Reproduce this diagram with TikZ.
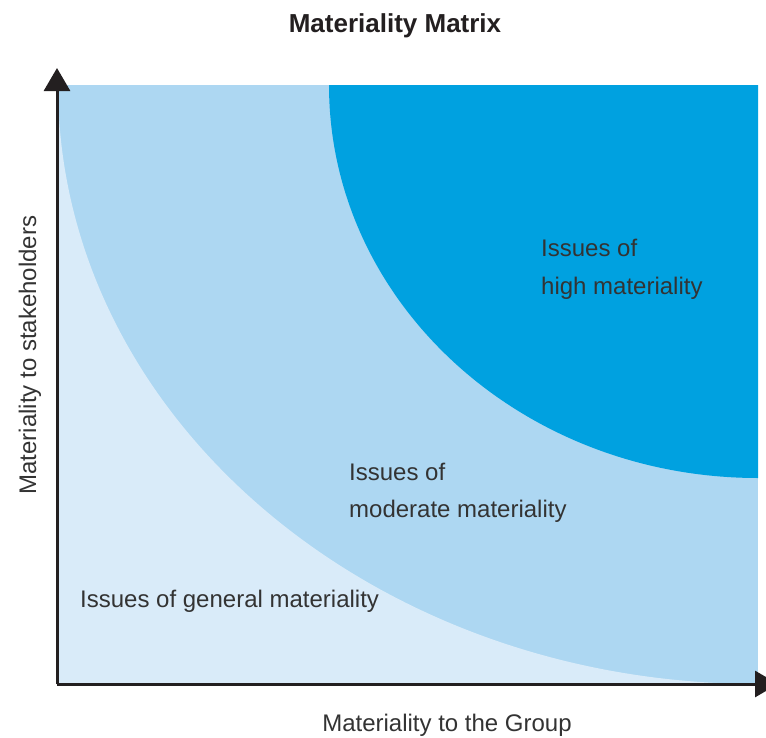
\documentclass[tikz,border=0pt]{standalone}
\usepackage{fontspec}
\setmainfont{Liberation Sans}
\usetikzlibrary{arrows.meta}
\definecolor{darkblue}{HTML}{00A1E0}
\definecolor{midblue}{HTML}{ADD7F2}
\definecolor{lightblue}{HTML}{D9EBF9}
\definecolor{axiscol}{HTML}{231F20}
\definecolor{txtcol}{HTML}{333333}
\begin{document}
\begin{tikzpicture}[x=1pt,y=-1pt,
  lbl/.style={inner sep=0pt,anchor=base west,text=txtcol,font=\fontsize{24}{28}\selectfont},
  axlbl/.style={inner sep=0pt,anchor=base,text=txtcol,font=\fontsize{24}{28}\selectfont},
  axisline/.style={draw=axiscol,line width=3pt,-{Triangle[width=26pt,length=23pt]}}]
\useasboundingbox (0,0) rectangle (766,737);
% regions
\fill[midblue] (58,85) rectangle (758,684);
\fill[lightblue] (58,85) arc[start angle=180,end angle=90,x radius=700,y radius=599] -- (58,684) -- cycle;
\fill[darkblue] (329,85) arc[start angle=180,end angle=90,x radius=429,y radius=393] -- (758,85) -- cycle;
% axes
\coordinate (O) at (57,684);
\coordinate (Ytip) at (57,68);
\coordinate (Xtip) at (778,684);
\draw[axisline] (O) -- (Ytip);
\draw[axisline] (O) -- (Xtip);
% title
\node[inner sep=0pt,anchor=base,text=axiscol,font=\fontsize{26}{30}\selectfont\bfseries] (title) at (395,32) {Materiality Matrix};
% labels
\node[lbl] (h1) at (541,256) {Issues of};
\node[lbl] (h2) at (541,294) {high materiality};
\node[lbl] (m1) at (349,480) {Issues of};
\node[lbl] (m2) at (349,517) {moderate materiality};
\node[lbl] (g1) at (80,607) {Issues of general materiality};
\node[axlbl] (xl) at (447,731) {Materiality to the Group};
\node[axlbl,rotate=90] (yl) at (36,355) {Materiality to stakeholders};
\end{tikzpicture}
\end{document}
